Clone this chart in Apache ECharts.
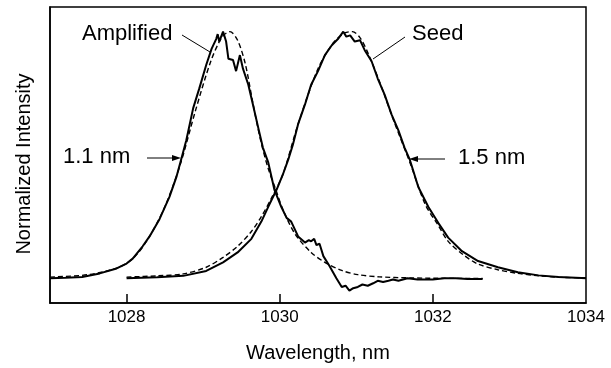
<!DOCTYPE html>
<html>
<head>
<meta charset="utf-8">
<script src="https://cdn.jsdelivr.net/npm/echarts@6/dist/echarts.min.js"></script>
<style>
html,body{margin:0;padding:0;background:#fff;}
#chart{width:611px;height:368px;}
</style>
</head>
<body>
<div id="chart"></div>
<script>
// Wavelength (nm) / normalized intensity
const ampWl = [1027.00,1027.20,1027.42,1027.65,1027.87,1028.00,1028.08,1028.21,1028.30,1028.43,1028.56,1028.65,1028.72,1028.78,1028.87,1028.95,1029.04,1029.11,1029.17,1029.19,1029.21,1029.26,1029.30,1029.33,1029.39,1029.43,1029.48,1029.52,1029.59,1029.65,1029.72,1029.78,1029.85,1029.93,1030.02,1030.09,1030.15,1030.24,1030.33,1030.38,1030.41,1030.45,1030.48,1030.52,1030.57,1030.65,1030.74,1030.81,1030.86,1030.91,1030.96,1031.02,1031.08,1031.15,1031.22,1031.28,1031.35,1031.42,1031.48,1031.55,1031.67,1031.80,1032.00,1032.15,1032.30,1032.45,1032.65];
const ampVal = [0.000,0.002,0.005,0.020,0.040,0.060,0.080,0.130,0.170,0.240,0.330,0.410,0.490,0.560,0.690,0.770,0.865,0.930,0.970,0.990,0.960,1.000,0.960,0.890,0.885,0.840,0.905,0.850,0.785,0.705,0.610,0.530,0.470,0.360,0.290,0.245,0.230,0.170,0.145,0.155,0.150,0.160,0.135,0.140,0.090,0.050,0.000,-0.035,-0.030,-0.050,-0.040,-0.035,-0.025,-0.030,-0.020,-0.010,-0.015,-0.010,-0.005,-0.010,0.000,-0.005,-0.005,0.000,0.000,-0.003,-0.003];

const ampFitWl = [1027.00,1027.50,1027.90,1028.10,1028.30,1028.50,1028.70,1028.90,1029.10,1029.25,1029.35,1029.45,1029.55,1029.65,1029.75,1029.85,1029.96,1030.04,1030.20,1030.41,1030.59,1030.81,1031.02,1031.30,1031.70,1032.20,1032.65];
const ampFitVal = [0.005,0.015,0.045,0.085,0.170,0.290,0.460,0.680,0.880,0.980,1.000,0.965,0.870,0.710,0.560,0.445,0.350,0.280,0.180,0.105,0.065,0.032,0.015,0.006,0.002,0.000,0.000];

const seedWl = [1028.00,1028.40,1028.74,1029.04,1029.26,1029.45,1029.63,1029.76,1029.85,1029.96,1030.04,1030.11,1030.17,1030.24,1030.33,1030.41,1030.50,1030.59,1030.68,1030.76,1030.83,1030.87,1030.92,1030.98,1031.05,1031.11,1031.20,1031.28,1031.37,1031.46,1031.55,1031.63,1031.70,1031.81,1031.94,1032.07,1032.20,1032.38,1032.59,1032.85,1033.11,1033.38,1033.64,1033.94,1034.00];
const seedVal = [0.000,0.004,0.010,0.030,0.065,0.105,0.160,0.230,0.290,0.360,0.420,0.480,0.540,0.625,0.705,0.785,0.840,0.905,0.945,0.970,1.000,0.980,0.985,0.960,0.965,0.925,0.880,0.810,0.745,0.665,0.600,0.530,0.480,0.370,0.290,0.225,0.165,0.110,0.070,0.045,0.025,0.012,0.005,0.001,0.000];

const seedFitWl = [1028.00,1028.40,1028.74,1029.04,1029.26,1029.45,1029.63,1029.76,1029.90,1030.04,1030.24,1030.50,1030.70,1030.85,1030.95,1031.05,1031.15,1031.30,1031.50,1031.70,1031.90,1032.07,1032.20,1032.40,1032.59,1032.85,1033.11,1033.40,1033.70,1034.00];
const seedFitVal = [0.005,0.010,0.018,0.045,0.085,0.130,0.190,0.250,0.330,0.420,0.625,0.850,0.955,0.995,1.000,0.975,0.915,0.800,0.630,0.470,0.300,0.215,0.150,0.095,0.058,0.035,0.020,0.010,0.004,0.002];

const xLabelValues = [1028,1030,1032,1034];
const xTickValues = [1028,1030,1032];

const pairs = (xs, ys) => xs.map((x, i) => [x, ys[i]]);

const FONT = 'Liberation Sans, Arial, Helvetica, sans-serif';
const chart = echarts.init(document.getElementById('chart'), null, {renderer: 'canvas'});

const solid = {color: '#000', width: 2};
const dashed = {color: '#000', width: 1.4, type: [5, 3]};

chart.setOption({
  animation: false,
  backgroundColor: '#fff',
  grid: {left: 50, right: 25, top: 7, bottom: 60, show: true, borderColor: '#000', borderWidth: 1.5},
  xAxis: {
    type: 'value', min: 1027, max: 1034, interval: 1,
    axisLine: {onZero: false, lineStyle: {color: '#000', width: 1.5}},
    axisTick: {inside: true, length: 9, customValues: xTickValues, lineStyle: {color: '#000', width: 1.5}},
    axisLabel: {customValues: xLabelValues, formatter: v => String(v), color: '#000', fontSize: 17, fontFamily: FONT, margin: 6},
    splitLine: {show: false},
    name: 'Wavelength, nm', nameLocation: 'middle', nameGap: 40,
    nameTextStyle: {color: '#000', fontSize: 20, fontFamily: FONT}
  },
  yAxis: {
    type: 'value', min: -0.1, max: 1.1,
    axisLine: {show: true, onZero: false, lineStyle: {color: '#000', width: 1.5}},
    axisTick: {show: false}, axisLabel: {show: false}, splitLine: {show: false}
  },
  series: [
    {type: 'line', data: pairs(ampFitWl, ampFitVal), showSymbol: false, lineStyle: dashed, z: 2, smooth: 0.3},
    {type: 'line', data: pairs(seedFitWl, seedFitVal), showSymbol: false, lineStyle: dashed, z: 2, smooth: 0.3},
    {type: 'line', data: pairs(ampWl, ampVal), showSymbol: false, lineStyle: solid, z: 3},
    {type: 'line', data: pairs(seedWl, seedVal), showSymbol: false, lineStyle: solid, z: 3}
  ],
  graphic: [
    {type: 'text', x: 24, y: 164, rotation: Math.PI / 2, style: {text: 'Normalized Intensity', font: '20px ' + FONT, fill: '#000', align: 'center', verticalAlign: 'middle'}},
    {type: 'text', left: 82, top: 23, style: {text: 'Amplified', font: '22px ' + FONT, fill: '#000'}},
    {type: 'text', left: 412, top: 23, style: {text: 'Seed', font: '22px ' + FONT, fill: '#000'}},
    {type: 'text', left: 63, top: 146, style: {text: '1.1 nm', font: '22px ' + FONT, fill: '#000'}},
    {type: 'text', left: 458, top: 147, style: {text: '1.5 nm', font: '22px ' + FONT, fill: '#000'}},
    {type: 'line', shape: {x1: 182, y1: 35, x2: 210, y2: 52}, style: {stroke: '#000', lineWidth: 1}},
    {type: 'line', shape: {x1: 405, y1: 37, x2: 373, y2: 59}, style: {stroke: '#000', lineWidth: 1}},
    {type: 'line', shape: {x1: 147, y1: 158, x2: 174, y2: 158}, style: {stroke: '#000', lineWidth: 1}},
    {type: 'polygon', shape: {points: [[181, 158], [172, 155], [172, 161]]}, style: {fill: '#000'}},
    {type: 'line', shape: {x1: 445, y1: 159, x2: 416, y2: 159}, style: {stroke: '#000', lineWidth: 1}},
    {type: 'polygon', shape: {points: [[409, 159], [418, 156], [418, 162]]}, style: {fill: '#000'}}
  ]
});
</script>
</body>
</html>
